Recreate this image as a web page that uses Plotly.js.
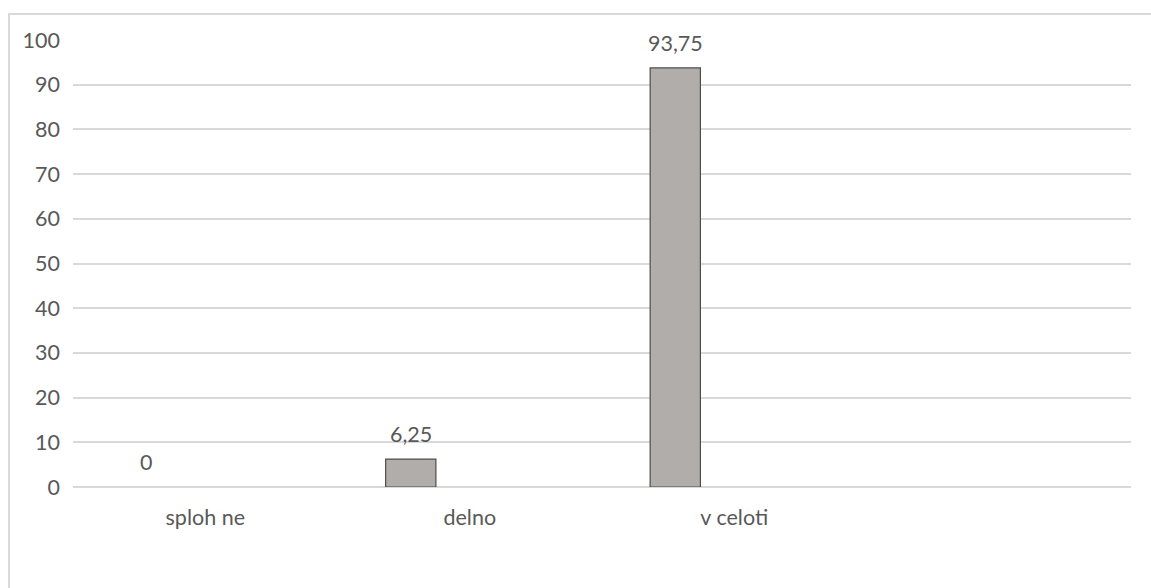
<!DOCTYPE html>
<html>
<head>
<meta charset="utf-8">
<script src="https://cdn.plot.ly/plotly-3.0.1.min.js"></script>
<style>
html,body{margin:0;padding:0;background:#fff;}
#chart{width:1151px;height:588px;}
</style>
</head>
<body>
<div id="chart"></div>
<script>
const categories = ['sploh ne', 'delno', 'v celoti'];
const values = [0, 6.25, 93.75];
const yTicks = [0, 10, 20, 30, 40, 50, 60, 70, 80, 90, 100];

const fmt = v => String(v).replace('.', ',');
const font = {family: 'Lato, "Open Sans", sans-serif', size: 21.5, color: '#595959'};

const trace = {
  type: 'bar',
  x: categories,
  y: values,
  width: 0.19,
  offset: -0.318,
  marker: {color: '#b1adaa', line: {color: '#4f4c4a', width: values.map(v => v ? 1.2 : 0)}},
  hoverinfo: 'x+y'
};

const annotations = categories.map((c, i) => ({
  x: c, y: values[i], xref: 'x', yref: 'y',
  text: fmt(values[i]), showarrow: false,
  xanchor: 'center', yanchor: 'middle',
  xshift: -59, yshift: 25,
  font: font
}));

const layout = {
  width: 1151, height: 588,
  margin: {l: 73, r: 20, t: 40, b: 101},
  paper_bgcolor: '#ffffff', plot_bgcolor: '#ffffff',
  separators: ',.',
  showlegend: false,
  font: font,
  xaxis: {
    type: 'category',
    categoryorder: 'array', categoryarray: categories,
    range: [-0.5, 3.5],
    showgrid: false, zeroline: false, showline: false,
    ticks: '', ticklabelstandoff: 15,
    tickfont: font, fixedrange: true
  },
  yaxis: {
    range: [0, 100],
    tickvals: yTicks, ticktext: yTicks.map(String),
    showgrid: true, gridcolor: '#d9d9d9', gridwidth: 2,
    zeroline: true, zerolinecolor: '#d9d9d9', zerolinewidth: 2,
    showline: false, ticks: '', ticklabelstandoff: 12,
    tickfont: font, fixedrange: true
  },
  annotations: annotations,
  shapes: [{
    type: 'rect', xref: 'paper', yref: 'paper',
    x0: -0.0605, x1: 1.1, y0: -0.4, y1: 1.058,
    line: {color: '#d9d9d9', width: 2}, fillcolor: 'rgba(0,0,0,0)', layer: 'below'
  }]
};

Plotly.newPlot('chart', [trace], layout, {displayModeBar: false, staticPlot: true});
</script>
</body>
</html>
